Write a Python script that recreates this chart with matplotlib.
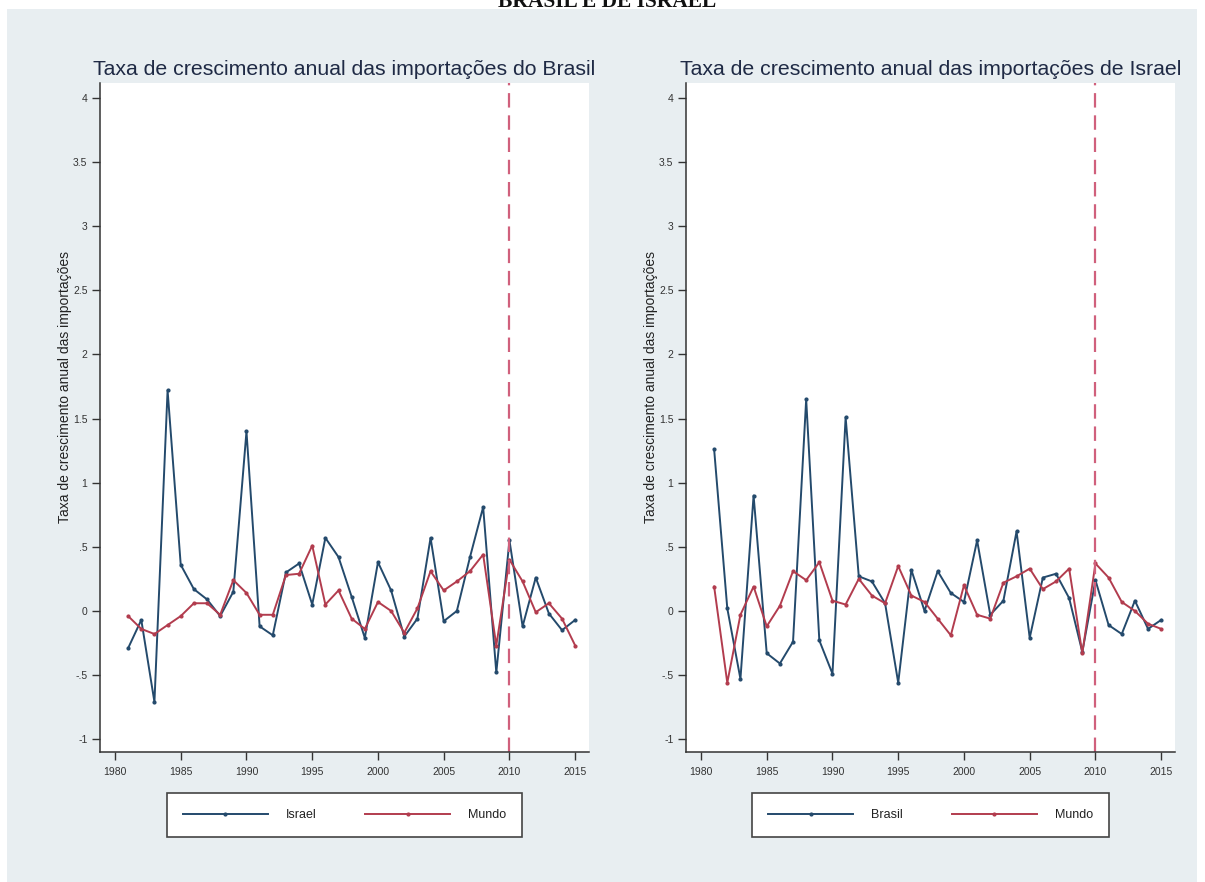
import numpy as np
import matplotlib
matplotlib.use("Agg")
import matplotlib.pyplot as plt
from matplotlib.patches import Rectangle

plt.rcParams['font.family'] = ['Liberation Sans', 'DejaVu Sans']

anos = np.arange(1981, 2016)

# importações do Brasil: de Israel e do mundo
bra_israel = [-0.29, -0.07, -0.71, 1.72, 0.36, 0.17, 0.09, -0.04, 0.15, 1.40,
              -0.12, -0.19, 0.30, 0.37, 0.05, 0.57, 0.42, 0.11, -0.21, 0.38,
              0.16, -0.20, -0.06, 0.57, -0.08, 0.00, 0.42, 0.81, -0.48, 0.55,
              -0.12, 0.26, -0.02, -0.15, -0.07]
bra_mundo = [-0.04, -0.14, -0.18, -0.11, -0.04, 0.06, 0.06, -0.03, 0.24, 0.14,
             -0.03, -0.03, 0.28, 0.29, 0.51, 0.05, 0.16, -0.06, -0.14, 0.07,
             0.00, -0.17, 0.02, 0.31, 0.16, 0.23, 0.31, 0.44, -0.27, 0.40,
             0.23, -0.01, 0.06, -0.06, -0.27]

# importações de Israel: do Brasil e do mundo
isr_brasil = [1.26, 0.02, -0.53, 0.90, -0.33, -0.41, -0.24, 1.65, -0.23, -0.49,
              1.51, 0.27, 0.23, 0.06, -0.56, 0.32, 0.00, 0.31, 0.14, 0.07,
              0.55, -0.03, 0.08, 0.62, -0.21, 0.26, 0.29, 0.10, -0.32, 0.24,
              -0.11, -0.18, 0.08, -0.14, -0.07]
isr_mundo = [0.19, -0.56, -0.03, 0.19, -0.12, 0.04, 0.31, 0.24, 0.38, 0.08,
             0.05, 0.25, 0.12, 0.06, 0.35, 0.12, 0.07, -0.06, -0.19, 0.20,
             -0.03, -0.06, 0.22, 0.27, 0.33, 0.17, 0.23, 0.33, -0.33, 0.37,
             0.26, 0.07, 0.00, -0.10, -0.14]

xticks = [1980, 1985, 1990, 1995, 2000, 2005, 2010, 2015]
yticks = [-1, -0.5, 0, 0.5, 1, 1.5, 2, 2.5, 3, 3.5, 4]
ytick_labels = ['-1', '-.5', '0', '.5', '1', '1.5', '2', '2.5', '3', '3.5', '4']

azul = '#244a6c'
vermelho = '#b23c4e'
bg = '#e8eef1'

fig = plt.figure(figsize=(12.05, 8.82), dpi=100)
fig.patch.set_facecolor('white')
fig.patches.append(Rectangle((7 / 1205, 0), 1190 / 1205, 1 - 9 / 882,
                             transform=fig.transFigure, facecolor=bg,
                             edgecolor='none', zorder=-10))

# cabeçalho cortado no topo da página
fig.text(0.504, 1 - 7 / 882, 'BRASIL E DE ISRAEL', family='Liberation Serif',
         weight='bold', fontsize=15.5, ha='center', va='baseline', color='#111111')

paineis = [
    (100, 'Taxa de crescimento anual das importações do Brasil',
     bra_israel, 'Israel', bra_mundo),
    (686, 'Taxa de crescimento anual das importações de Israel',
     isr_brasil, 'Brasil', isr_mundo),
]

for x0, titulo, serie, nome, mundo in paineis:
    ax = fig.add_axes([x0 / 1205, 1 - 752 / 882, 489 / 1205, 669 / 882])
    ax.set_facecolor('white')
    ax.plot(anos, serie, color=azul, lw=1.4, marker='o', ms=2, label=nome)
    ax.plot(anos, mundo, color=vermelho, lw=1.4, marker='o', ms=2, label='Mundo')
    ax.axvline(2010, color='#d0607c', lw=1.6, dashes=(6.5, 3.5))

    ax.set_xlim(1978.86, 2016.05)
    ax.set_ylim(-1.10, 4.117)
    ax.set_xticks(xticks)
    ax.set_yticks(yticks)
    ax.set_yticklabels(ytick_labels)
    ax.tick_params(direction='out', length=6, width=1, labelsize=7.5,
                   labelcolor='#333333', color='#333333', pad=3)
    ax.tick_params(axis='x', pad=5)
    for lado in ['top', 'right']:
        ax.spines[lado].set_visible(False)
    for lado in ['left', 'bottom']:
        ax.spines[lado].set_color('#333333')
        ax.spines[lado].set_linewidth(1.1)

    ax.set_title(titulo, fontsize=15.3, color='#1f2a45', pad=6)
    ax.set_ylabel('Taxa de crescimento anual das importações', fontsize=10,
                  color='#222222')
    ax.yaxis.set_label_coords(-0.057, 0.545)

    leg = ax.legend(loc='center', bbox_to_anchor=(0.5, -0.094), ncol=2,
                    fontsize=9, handlelength=6.8, handletextpad=1.45,
                    columnspacing=3.9, borderpad=1.25, borderaxespad=0,
                    frameon=True, fancybox=False, framealpha=1)
    leg.get_frame().set_edgecolor('#444444')
    leg.get_frame().set_linewidth(1.2)
    for t in leg.get_texts():
        t.set_color('#222222')

fig.savefig('out.png', dpi=100)
